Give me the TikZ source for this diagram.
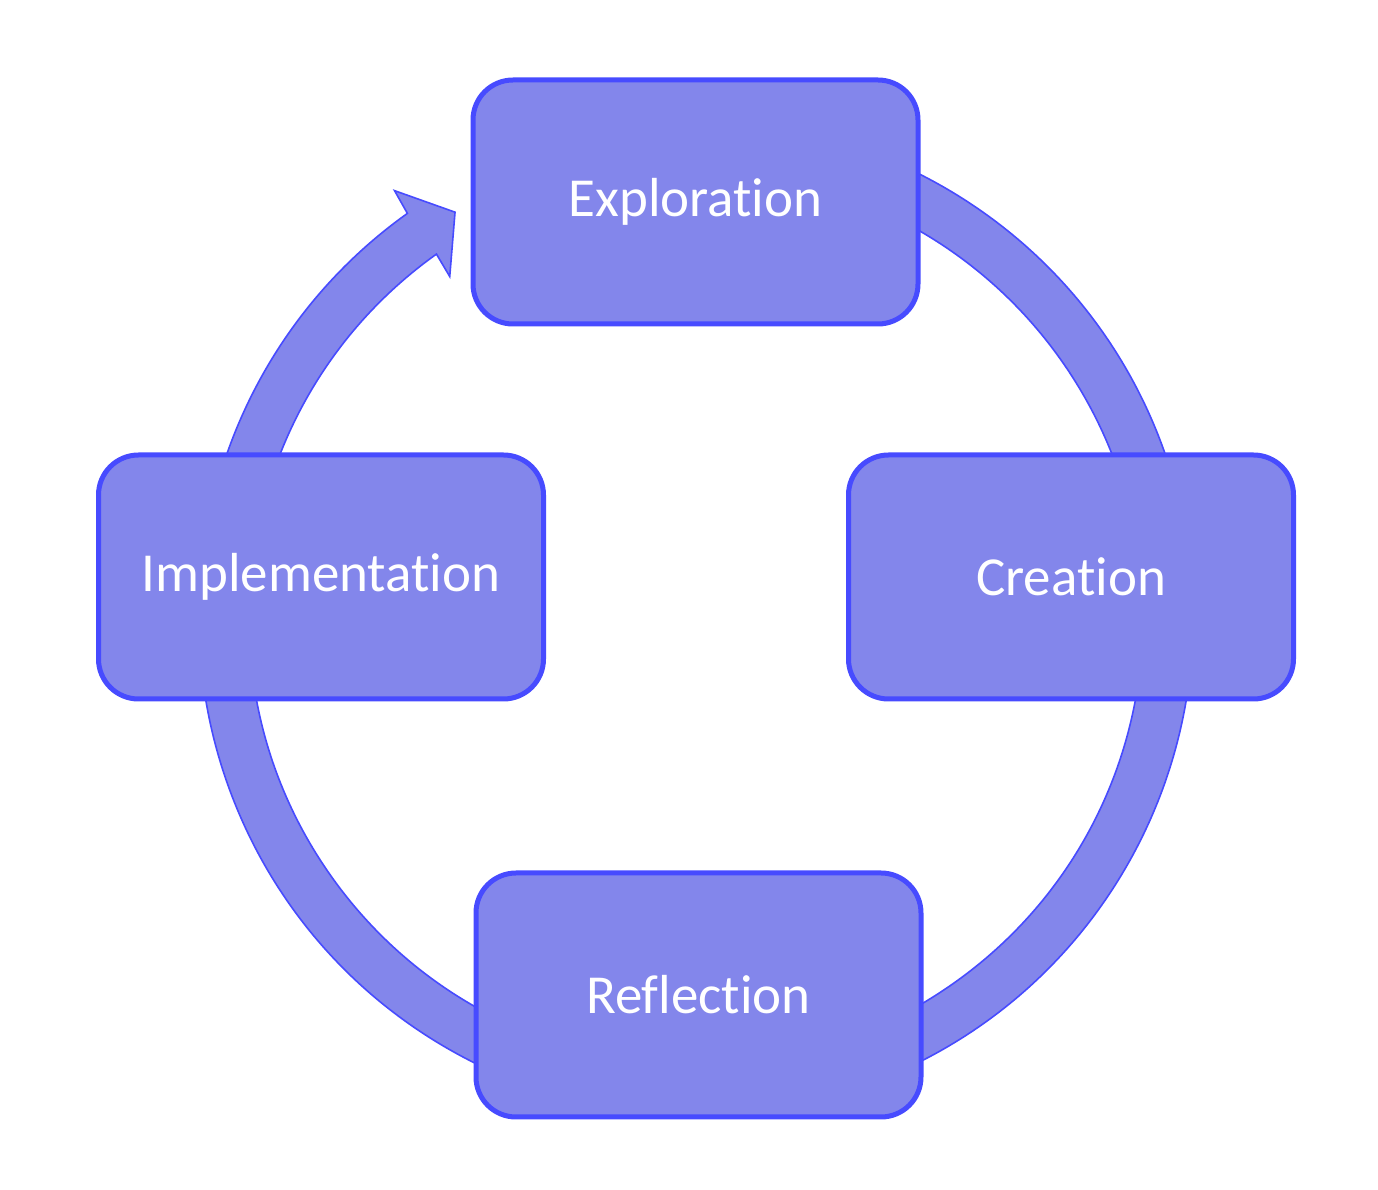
\documentclass[tikz,border=0pt]{standalone}
\usepackage{fontspec}
\setmainfont{Carlito}[Ligatures=NoCommon]
\usetikzlibrary{calc}
\definecolor{ringfill}{RGB}{131,134,235}
\definecolor{ringline}{RGB}{71,75,255}
\begin{document}
\begin{tikzpicture}[x=0.5pt,y=0.5pt,
  stage/.style={minimum width=222.5pt,minimum height=122pt,rectangle,rounded corners=20pt,
    fill=ringfill,draw=ringline,line width=2.5pt,text=white,font=\fontsize{27.5}{32}\selectfont}]
\useasboundingbox (0,0) rectangle (1378,1190);
\coordinate (c) at (696,572);
% ring arrow behind the stages
\draw[fill=ringfill,draw=ringline,line width=0.8pt,line join=miter]
  ($(c)+(110:497)$) arc[start angle=110,end angle=-234.5,radius=497]
  -- ($(c)+(125.2:523)$) -- ($(c)+(120.7:472)$) -- ($(c)+(125.8:421)$)
  -- ($(c)+(125.5:447)$) arc[start angle=-234.5,end angle=110,radius=447] -- cycle;
% stages
\node[stage] (explore) at (695.5,988) {Exploration};
\node[stage] (create) at (1071,613) {Creation};
\node[stage] (reflect) at (698.5,195) {Reflection};
\node[stage] (implement) at (321,613) {Implementation};
\end{tikzpicture}
\end{document}
